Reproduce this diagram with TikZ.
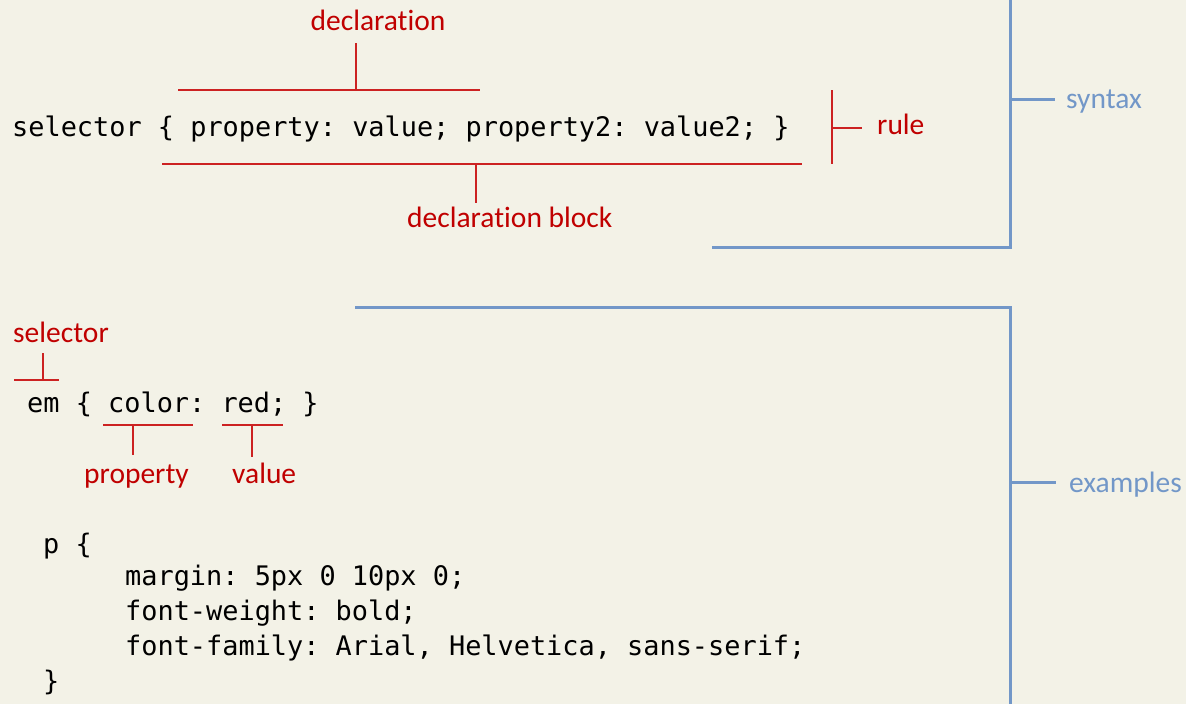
\documentclass[tikz,border=0pt]{standalone}
\usepackage{fontspec}
\setmainfont{Carlito}[Ligatures={NoCommon}]
\setmonofont{DejaVu Sans Mono}
\definecolor{paper}{RGB}{243,242,231}
\definecolor{labelred}{RGB}{192,0,0}
\definecolor{brackred}{RGB}{204,34,34}
\definecolor{groupblue}{RGB}{114,151,200}
\newcommand{\codefont}{\ttfamily\fontsize{26.9}{32}\selectfont}
\newcommand{\labelfont}{\rmfamily\fontsize{29.5}{34}\selectfont}

\begin{document}
\begin{tikzpicture}[x=1pt,y=-1pt,
  code/.style={anchor=base west, inner sep=0pt, font=\codefont},
  redlabel/.style={inner sep=0pt, text=labelred, font=\labelfont},
  bluelabel/.style={anchor=base west, inner sep=0pt, text=groupblue, font=\labelfont},
  redline/.style={draw=brackred, line width=2pt},
  blueline/.style={draw=groupblue, line width=3pt, line join=miter}]

% page and background
\useasboundingbox (0,0) rectangle (1186,704);
\fill[paper] (0,0) rectangle (1186,704);

% ---------- syntax ----------
\node[code] (rule1) at (12,136) {selector \{ property: value; property2: value2; \}};

\node[redlabel, anchor=base] (decl) at (378,30) {declaration};
\coordinate (declL) at (178,90);
\coordinate (declR) at (480,90);
\coordinate (declM) at (356,90);
\coordinate (declT) at (356,43);
\draw[redline] (declL) -- (declR);
\draw[redline] (declM) -- (declT);

\coordinate (blockL) at (162,164);
\coordinate (blockR) at (802,164);
\coordinate (blockM) at (476,164);
\coordinate (blockB) at (476,203);
\draw[redline] (blockL) -- (blockR);
\draw[redline] (blockM) -- (blockB);
\node[redlabel, anchor=base west] (block) at (407,227) {declaration block};

\coordinate (ruleT) at (832,90);
\coordinate (ruleB) at (832,164);
\coordinate (ruleM) at (832,128);
\coordinate (ruleE) at (862,128);
\draw[redline] (ruleT) -- (ruleB);
\draw[redline] (ruleM) -- (ruleE);
\node[redlabel, anchor=base west] (rulelbl) at (877,134) {rule};

% syntax group bracket
\coordinate (synB) at (712,247);
\coordinate (synC) at (1010,247);
\coordinate (synT) at (1010,-5);
\coordinate (synM) at (1010,99);
\coordinate (synE) at (1055,99);
\draw[blueline] (synB) -- (synC) -- (synT);
\draw[blueline] (synM) -- (synE);
\node[bluelabel] (synlbl) at (1066,108) {syntax};

% ---------- examples ----------
\node[redlabel, anchor=base west] (sellbl) at (13,342) {selector};
\coordinate (selL) at (14,380);
\coordinate (selR) at (59,380);
\coordinate (selM) at (43,380);
\coordinate (selT) at (43,353);
\draw[redline] (selL) -- (selR);
\draw[redline] (selM) -- (selT);

\node[code] (ex1) at (27,412) {em \{ color: red; \}};

\coordinate (propL) at (103,425);
\coordinate (propR) at (193,425);
\coordinate (propM) at (133,425);
\coordinate (propB) at (133,455);
\draw[redline] (propL) -- (propR);
\draw[redline] (propM) -- (propB);
\node[redlabel, anchor=base west] (proplbl) at (84,483) {property};

\coordinate (valL) at (222,425);
\coordinate (valR) at (283,425);
\coordinate (valM) at (252,425);
\coordinate (valB) at (252,457);
\draw[redline] (valL) -- (valR);
\draw[redline] (valM) -- (valB);
\node[redlabel, anchor=base west] (vallbl) at (232,483) {value};

\node[code] (p1) at (43,553) {p \{};
\node[code] (p2) at (125,585) {margin: 5px 0 10px 0;};
\node[code] (p3) at (125,620) {font-weight: bold;};
\node[code] (p4) at (125,655) {font-family: Arial, Helvetica, sans-serif;};
\node[code] (p5) at (43,690) {\}};

% examples group bracket
\coordinate (exL) at (355,307);
\coordinate (exC) at (1010,307);
\coordinate (exB) at (1010,710);
\coordinate (exM) at (1010,482);
\coordinate (exE) at (1056,482);
\draw[blueline] (exL) -- (exC) -- (exB);
\draw[blueline] (exM) -- (exE);
\node[bluelabel] (exlbl) at (1069,492) {examples};

\end{tikzpicture}
\end{document}
